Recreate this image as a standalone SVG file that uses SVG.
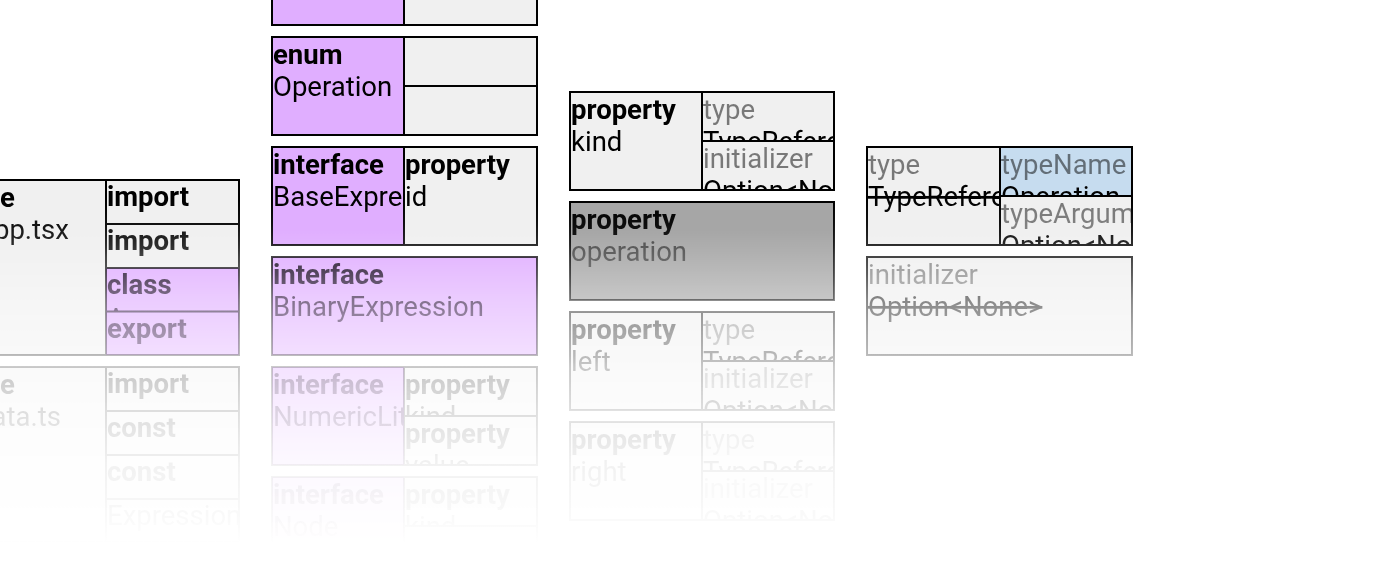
<svg xmlns="http://www.w3.org/2000/svg" width="1400" height="571" viewBox="0 0 1400 571">
<style>
text{font-family:Roboto,"Noto Sans",sans-serif;font-size:27.5px;fill:#000}
.b{font-weight:700}
.g{fill-opacity:0.5}
.s{text-decoration:line-through}
.pu{fill:#e0aeff}
.gr{fill:#f0f0f0}
.bl{fill:#c6dcef}
.sel{fill:#a6a6a6}
.ln{fill:none;stroke:#000;stroke-width:2}
</style>
<defs>
<linearGradient id="gi" gradientUnits="userSpaceOnUse" x1="0" y1="0" x2="0" y2="571">
<stop offset="0.350" stop-color="#fff" stop-opacity="1"/>
<stop offset="0.392" stop-color="#fff" stop-opacity="0.93"/>
<stop offset="0.429" stop-color="#fff" stop-opacity="0.82"/>
<stop offset="0.450" stop-color="#fff" stop-opacity="0.72"/>
<stop offset="0.482" stop-color="#fff" stop-opacity="0.62"/>
<stop offset="0.525" stop-color="#fff" stop-opacity="0.45"/>
<stop offset="0.545" stop-color="#fff" stop-opacity="0.40"/>
<stop offset="0.578" stop-color="#fff" stop-opacity="0.33"/>
<stop offset="0.622" stop-color="#fff" stop-opacity="0.26"/>
<stop offset="0.643" stop-color="#fff" stop-opacity="0.20"/>
<stop offset="0.718" stop-color="#fff" stop-opacity="0.12"/>
<stop offset="0.814" stop-color="#fff" stop-opacity="0.05"/>
<stop offset="0.911" stop-color="#fff" stop-opacity="0.02"/>
<stop offset="0.954" stop-color="#fff" stop-opacity="0"/>
</linearGradient>
<linearGradient id="gf" gradientUnits="userSpaceOnUse" x1="0" y1="0" x2="0" y2="571">
<stop offset="0.403" stop-color="#fff" stop-opacity="1"/>
<stop offset="0.452" stop-color="#fff" stop-opacity="0.86"/>
<stop offset="0.522" stop-color="#fff" stop-opacity="0.64"/>
<stop offset="0.620" stop-color="#fff" stop-opacity="0.4"/>
<stop offset="0.643" stop-color="#fff" stop-opacity="0.35"/>
<stop offset="0.718" stop-color="#fff" stop-opacity="0.21"/>
<stop offset="0.814" stop-color="#fff" stop-opacity="0.08"/>
<stop offset="0.911" stop-color="#fff" stop-opacity="0.02"/>
<stop offset="0.954" stop-color="#fff" stop-opacity="0"/>
</linearGradient>
<mask id="mi" maskUnits="userSpaceOnUse" x="-200" y="-200" width="1800" height="1000"><rect x="-200" y="-200" width="1800" height="1000" fill="url(#gi)"/></mask>
<mask id="mf" maskUnits="userSpaceOnUse" x="-200" y="-200" width="1800" height="1000"><rect x="-200" y="-200" width="1800" height="1000" fill="url(#gf)"/></mask>
</defs>
<rect width="1400" height="571" fill="#fff"/>

<g id="connectors"/>

<!-- Column 1 -->
<g id="n-app-tsx">
<g mask="url(#mf)">
<rect class="gr" x="-26" y="180" width="132" height="175"/>
<rect class="gr" x="106" y="180" width="133" height="44"/>
<rect class="gr" x="106" y="224" width="133" height="44"/>
<rect class="pu" x="106" y="268" width="133" height="43.5"/>
<rect class="pu" x="106" y="311.5" width="133" height="43.5"/>
</g>
<g mask="url(#mi)">
<svg x="-26" y="180" width="132" height="175"><text class="b" x="2" y="27">file</text><text x="2" y="59">App.tsx</text></svg>
<svg x="106" y="180" width="133" height="44"><text class="b" x="1" y="26">import</text></svg>
<svg x="106" y="224" width="133" height="44"><text class="b" x="1" y="26">import</text></svg>
<svg x="106" y="268" width="133" height="43.5"><text class="b" x="1" y="26">class</text><text x="1" y="60">App</text></svg>
<svg x="106" y="311.5" width="133" height="43.5"><text class="b" x="1" y="26">export</text></svg>
<rect class="ln" x="-26" y="180" width="265" height="175"/>
<path class="ln" d="M106 180V355M106 224H239M106 268H239M106 311.5H239"/>
</g>
</g>

<g id="n-data-ts">
<g mask="url(#mf)">
<rect class="gr" x="-26" y="367" width="132" height="175"/>
<rect class="gr" x="106" y="367" width="133" height="175"/>
</g>
<g mask="url(#mi)">
<svg x="-26" y="367" width="132" height="175"><text class="b" x="2" y="27">file</text><text x="2" y="59">data.ts</text></svg>
<svg x="106" y="367" width="133" height="44"><text class="b" x="1" y="26">import</text></svg>
<svg x="106" y="411" width="133" height="44"><text class="b" x="1" y="26">const</text></svg>
<svg x="106" y="455" width="133" height="44"><text class="b" x="1" y="26">const</text></svg>
<svg x="106" y="499" width="133" height="43"><text x="1" y="26">Expression</text></svg>
<rect class="ln" x="-26" y="367" width="265" height="175"/>
<path class="ln" d="M106 367V542M106 411H239M106 455H239M106 499H239"/>
</g>
</g>

<!-- Column 2 -->
<g id="n-top">
<g mask="url(#mf)">
<rect class="pu" x="272" y="-73" width="132" height="98"/>
<rect class="gr" x="404" y="-73" width="133" height="98"/>
</g>
<g mask="url(#mi)">
<rect class="ln" x="272" y="-73" width="265" height="98"/>
<path class="ln" d="M404 -73V25"/>
</g>
</g>

<g id="n-enum-operation">
<g mask="url(#mf)">
<rect class="pu" x="272" y="37" width="132" height="98"/>
<rect class="gr" x="404" y="37" width="133" height="98"/>
</g>
<g mask="url(#mi)">
<svg x="272" y="37" width="132" height="98"><text class="b" x="1" y="27">enum</text><text x="1" y="59">Operation</text></svg>
<rect class="ln" x="272" y="37" width="265" height="98"/>
<path class="ln" d="M404 37V135M404 86H537"/>
</g>
</g>

<g id="n-base-expression">
<g mask="url(#mf)">
<rect class="pu" x="272" y="147" width="132" height="98"/>
<rect class="gr" x="404" y="147" width="133" height="98"/>
</g>
<g mask="url(#mi)">
<svg x="272" y="147" width="132" height="98"><text class="b" x="1" y="27">interface</text><text x="1" y="59">BaseExpression</text></svg>
<svg x="404" y="147" width="133" height="98"><text class="b" x="1" y="27">property</text><text x="1" y="59">id</text></svg>
<rect class="ln" x="272" y="147" width="265" height="98"/>
<path class="ln" d="M404 147V245"/>
</g>
</g>

<g id="n-binary-expression">
<g mask="url(#mf)">
<rect class="pu" x="272" y="257" width="265" height="98"/>
</g>
<g mask="url(#mi)">
<svg x="272" y="257" width="265" height="98"><text class="b" x="1" y="27">interface</text><text x="1" y="59">BinaryExpression</text></svg>
<rect class="ln" x="272" y="257" width="265" height="98"/>
</g>
</g>

<g id="n-numeric-literal">
<g mask="url(#mf)">
<rect class="pu" x="272" y="367" width="132" height="98"/>
<rect class="gr" x="404" y="367" width="133" height="98"/>
</g>
<g mask="url(#mi)">
<svg x="272" y="367" width="132" height="98"><text class="b" x="1" y="27">interface</text><text x="1" y="59">NumericLiteral</text></svg>
<svg x="404" y="367" width="133" height="49"><text class="b" x="1" y="27">property</text><text x="1" y="59">kind</text></svg>
<svg x="404" y="416" width="133" height="49"><text class="b" x="1" y="27">property</text><text x="1" y="59">value</text></svg>
<rect class="ln" x="272" y="367" width="265" height="98"/>
<path class="ln" d="M404 367V465M404 416H537"/>
</g>
</g>

<g id="n-node">
<g mask="url(#mf)">
<rect class="pu" x="272" y="477" width="132" height="98"/>
<rect class="gr" x="404" y="477" width="133" height="98"/>
</g>
<g mask="url(#mi)">
<svg x="272" y="477" width="132" height="98"><text class="b" x="1" y="27">interface</text><text x="1" y="59">Node</text></svg>
<svg x="404" y="477" width="133" height="49"><text class="b" x="1" y="27">property</text><text x="1" y="59">kind</text></svg>
<rect class="ln" x="272" y="477" width="265" height="98"/>
<path class="ln" d="M404 477V575M404 526H537"/>
</g>
</g>

<!-- Column 3 -->
<g id="n-prop-kind">
<g mask="url(#mf)">
<rect class="gr" x="570" y="92" width="264" height="98"/>
</g>
<g mask="url(#mi)">
<svg x="570" y="92" width="132" height="98"><text class="b" x="1" y="27">property</text><text x="1" y="59">kind</text></svg>
<svg x="702" y="92" width="132" height="49"><text class="g" x="1" y="27">type</text><text x="1" y="59">TypeReference</text></svg>
<svg x="702" y="141" width="132" height="49"><text class="g" x="1" y="27">initializer</text><text x="1" y="59">Option&lt;None&gt;</text></svg>
<rect class="ln" x="570" y="92" width="264" height="98"/>
<path class="ln" d="M702 92V190M702 141H834"/>
</g>
</g>

<g id="n-prop-operation">
<g mask="url(#mf)">
<rect class="sel" x="570" y="202" width="264" height="98"/>
</g>
<g mask="url(#mi)">
<svg x="570" y="202" width="264" height="98"><text class="b" x="1" y="27">property</text><text x="1" y="59" fill-opacity="0.6">operation</text></svg>
<rect class="ln" x="570" y="202" width="264" height="98"/>
</g>
</g>

<g id="n-prop-left">
<g mask="url(#mf)">
<rect class="gr" x="570" y="312" width="264" height="98"/>
</g>
<g mask="url(#mi)">
<svg x="570" y="312" width="132" height="98"><text class="b" x="1" y="27">property</text><text x="1" y="59">left</text></svg>
<svg x="702" y="312" width="132" height="49"><text class="g" x="1" y="27">type</text><text x="1" y="59">TypeReference</text></svg>
<svg x="702" y="361" width="132" height="49"><text class="g" x="1" y="27">initializer</text><text x="1" y="59">Option&lt;None&gt;</text></svg>
<rect class="ln" x="570" y="312" width="264" height="98"/>
<path class="ln" d="M702 312V410M702 361H834"/>
</g>
</g>

<g id="n-prop-right">
<g mask="url(#mf)">
<rect class="gr" x="570" y="422" width="264" height="98"/>
</g>
<g mask="url(#mi)">
<svg x="570" y="422" width="132" height="98"><text class="b" x="1" y="27">property</text><text x="1" y="59">right</text></svg>
<svg x="702" y="422" width="132" height="49"><text class="g" x="1" y="27">type</text><text x="1" y="59">TypeReference</text></svg>
<svg x="702" y="471" width="132" height="49"><text class="g" x="1" y="27">initializer</text><text x="1" y="59">Option&lt;None&gt;</text></svg>
<rect class="ln" x="570" y="422" width="264" height="98"/>
<path class="ln" d="M702 422V520M702 471H834"/>
</g>
</g>

<!-- Column 4 -->
<g id="n-type">
<g mask="url(#mf)">
<rect class="gr" x="867" y="147" width="133" height="98"/>
<rect class="bl" x="1000" y="147" width="132" height="49"/>
<rect class="gr" x="1000" y="196" width="132" height="49"/>
</g>
<g mask="url(#mi)">
<svg x="867" y="147" width="133" height="98"><text class="g" x="1" y="27">type</text><text class="s" x="1" y="59">TypeReference</text></svg>
<svg x="1000" y="147" width="132" height="49"><text class="g" x="1" y="27">typeName</text><text x="1" y="59">Operation</text></svg>
<svg x="1000" y="196" width="132" height="49"><text class="g" x="1" y="27">typeArguments</text><text x="1" y="59">Option&lt;None&gt;</text></svg>
<rect class="ln" x="867" y="147" width="265" height="98"/>
<path class="ln" d="M1000 147V245M1000 196H1132"/>
</g>
</g>

<g id="n-initializer">
<g mask="url(#mf)">
<rect class="gr" x="867" y="257" width="265" height="98"/>
</g>
<g mask="url(#mi)">
<svg x="867" y="257" width="265" height="98"><text class="g" x="1" y="27">initializer</text><text class="s" x="1" y="59">Option&lt;None&gt;</text></svg>
<rect class="ln" x="867" y="257" width="265" height="98"/>
</g>
</g>
</svg>
